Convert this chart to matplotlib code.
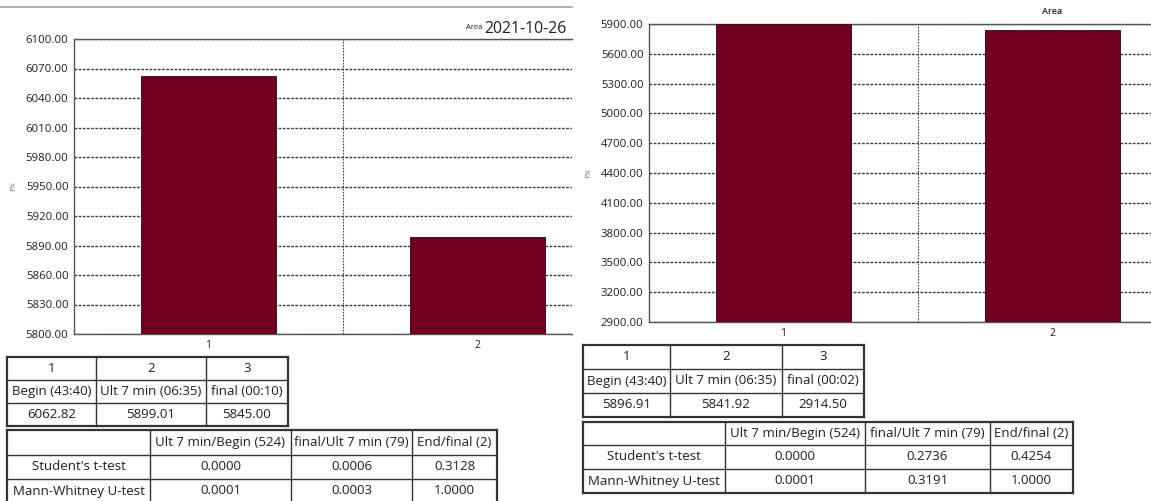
import matplotlib
matplotlib.use('Agg')
import matplotlib.pyplot as plt

plt.rcParams['font.family'] = ['Open Sans', 'DejaVu Sans']

# ---------------- data ----------------
categories = [1, 2]
left_values = [6062.82, 5899.01]
right_values = [5896.91, 5841.92]
left_yticks = [5800, 5830, 5860, 5890, 5920, 5950, 5980, 6010, 6040, 6070, 6100]
right_yticks = [2900, 3200, 3500, 3800, 4100, 4400, 4700, 5000, 5300, 5600, 5900]
left_date = '2021-10-26'
series_title = 'Area'
ylabel = 'PX'

phase_numbers = ['1', '2', '3']
phase_names_left = ['Begin (43:40)', 'Ult 7 min (06:35)', 'final (00:10)']
phase_means_left = ['6062.82', '5899.01', '5845.00']
phase_names_right = ['Begin (43:40)', 'Ult 7 min (06:35)', 'final (00:02)']
phase_means_right = ['5896.91', '5841.92', '2914.50']
test_columns = ['', 'Ult 7 min/Begin (524)', 'final/Ult 7 min (79)', 'End/final (2)']
test_names = ["Student's t-test", 'Mann-Whitney U-test']
tests_left = [['0.0000', '0.0006', '0.3128'], ['0.0001', '0.0003', '1.0000']]
tests_right = [['0.0000', '0.2736', '0.4254'], ['0.0001', '0.3191', '1.0000']]

# ---------------- layout ----------------
W, H = 1151, 501
BAR = '#6f0020'
GRID = '#3c3c3c'
TXT = '#1e1e1e'

fig = plt.figure(figsize=(W / 100, H / 100), dpi=100)
fig.patch.set_facecolor('white')


def px_axes(x0, y0, x1, y1):
    return fig.add_axes([x0 / W, 1 - y1 / H, (x1 - x0) / W, (y1 - y0) / H])


def style_chart(ax, values, yticks, xmax):
    ax.bar(categories, values, width=0.5, color=BAR, edgecolor='#3a0010',
           linewidth=0.6, zorder=3)
    ax.set_xlim(0.5, xmax)
    ax.set_ylim(yticks[0], yticks[-1])
    ax.set_yticks(yticks)
    ax.set_yticklabels(['%.2f' % v for v in yticks], fontsize=8.2, color=TXT)
    ax.set_xticks(categories)
    ax.set_xticklabels([str(c) for c in categories], fontsize=7.5, color=TXT)
    ax.tick_params(axis='x', length=0, pad=4)
    ax.tick_params(axis='y', length=0, pad=4)
    ax.grid(axis='y', color=GRID, linestyle=(0, (2, 1)), linewidth=1.0, zorder=1)
    ax.axvline(1.5, color=GRID, linestyle=(0, (1.5, 1.2)), linewidth=0.8, zorder=1)
    for s in ['left', 'bottom', 'top']:
        ax.spines[s].set_color('#555555')
        ax.spines[s].set_linewidth(1.0)
    ax.spines['right'].set_visible(False)
    ax.set_ylabel(ylabel, fontsize=6, color='#777777', labelpad=6)


# Left chart (cropped on the right)
axL = px_axes(74, 39, 572, 334)
style_chart(axL, left_values, left_yticks, 0.5 + (572 - 74) / 269)

# Right chart (cropped on the right)
axR = px_axes(649, 24, 1151, 322)
style_chart(axR, right_values, right_yticks, 0.5 + (1151 - 649) / 269)

# ---------------- overlay for titles and tables ----------------
ov = fig.add_axes([0, 0, 1, 1], zorder=-1)
ov.set_xlim(0, W)
ov.set_ylim(H, 0)
ov.axis('off')

ov.plot([0, 572], [7, 7], color='#a0a0a0', linewidth=1.2)
ov.text(483, 27, series_title, fontsize=5.5, color=TXT, ha='right', va='center')
ov.text(567, 29, left_date, fontsize=11.3, color=TXT, ha='right', va='center')
ov.text(1052, 11, series_title, fontsize=6.5, color=TXT, ha='center', va='center',
        fontweight='semibold')


def draw_table(x_edges, y_edges, rows, fs=9.5):
    x0, x1 = x_edges[0], x_edges[-1]
    y0, y1 = y_edges[0], y_edges[-1]
    for i, y in enumerate(y_edges):
        lw = 1.6 if i in (0, len(y_edges) - 1) else 1.0
        ov.plot([x0, x1], [y, y], color='#333333', linewidth=lw,
                solid_capstyle='projecting')
    for j, x in enumerate(x_edges):
        lw = 1.6 if j in (0, len(x_edges) - 1) else 1.0
        ov.plot([x, x], [y0, y1], color='#333333', linewidth=lw,
                solid_capstyle='projecting')
    for r, row in enumerate(rows):
        yc = (y_edges[r] + y_edges[r + 1]) / 2
        for c, val in enumerate(row):
            xc = (x_edges[c] + x_edges[c + 1]) / 2
            ov.text(xc, yc, val, fontsize=fs, color=TXT, ha='center', va='center')


def test_rows(values):
    rows = [test_columns]
    for name, vals in zip(test_names, values):
        rows.append([name] + vals)
    return rows


draw_table([7, 96, 206, 288], [357, 380, 403, 426],
           [phase_numbers, phase_names_left, phase_means_left])
draw_table([7, 150, 291, 412, 497], [430, 455, 479, 503], test_rows(tests_left))

draw_table([583, 670, 782, 864], [345, 369, 393, 417],
           [phase_numbers, phase_names_right, phase_means_right])
draw_table([583, 725, 865, 990, 1073], [422, 445, 469, 493], test_rows(tests_right))

fig.savefig('out.png', dpi=100)
